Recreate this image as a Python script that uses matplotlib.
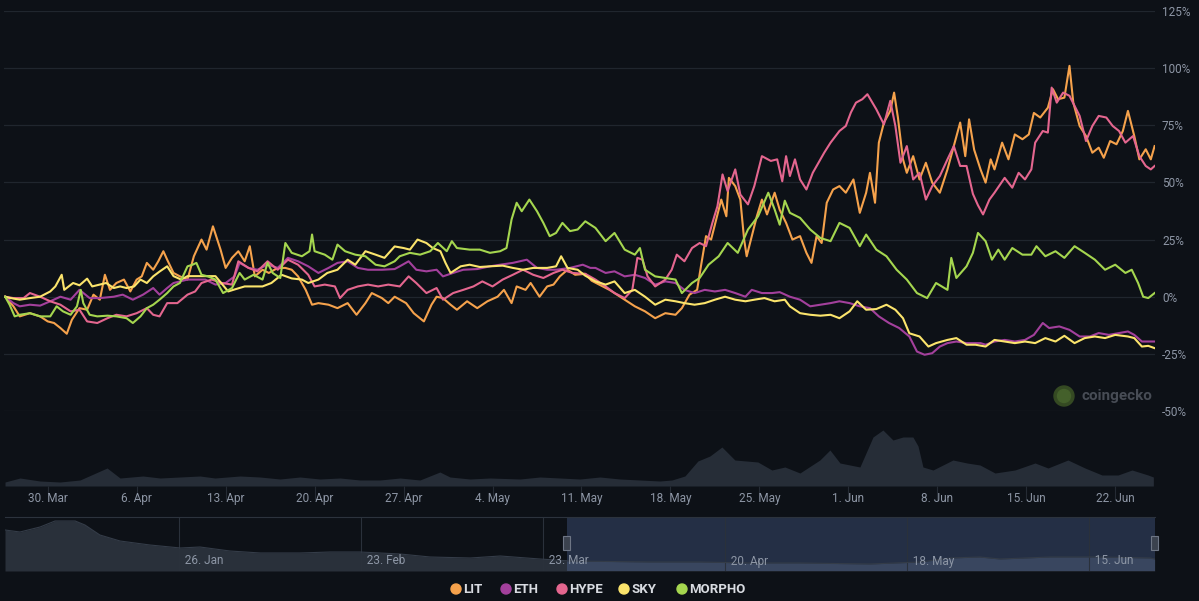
import numpy as np
import pandas as pd
import matplotlib
matplotlib.use("Agg")
import matplotlib.pyplot as plt
import matplotlib.dates as mdates
from matplotlib.patches import Circle, Rectangle
from matplotlib.ticker import FuncFormatter

plt.rcParams['font.family'] = ['Roboto', 'DejaVu Sans']

START = pd.Timestamp("2026-03-30")

# (days after 30 Mar, % change)
lit = [(-3.35, 0), (-2.7, -4.2), (-2.2, -8.6), (-1.4, -7.2), (-0.6, -8.6), (0, -10.8), (0.5, -11.5),
       (1, -13.7), (1.5, -16.2), (1.9, -10.1), (2.5, -5), (3.1, -5.7), (3.6, 0.9), (4.1, -1.3),
       (4.5, 9.6), (4.9, 3), (5.4, 6), (6, 7.5), (6.5, 2.3), (7, 7.5), (7.4, 8.9), (7.8, 14.8),
       (8.3, 11.8), (8.7, 15.5), (9.1, 19.9), (9.4, 16.2), (9.9, 10.4), (10.4, 8.9), (11, 7.5),
       (11.5, 17.7), (11.8, 21.3), (12.1, 25), (12.5, 20.6), (13, 30.8), (13.6, 20.6), (14, 12.6),
       (14.5, 17), (15, 19.9), (15.5, 15.5), (15.9, 22.1), (16.3, 8.9), (16.9, 11.8), (17.4, 10.4),
       (18.1, 12.6), (18.7, 12.6), (19.2, 11.8), (19.7, 8.9), (20.3, 3), (20.8, -3.5), (21.3, -2.8),
       (22.1, -3.5), (22.8, -5), (23.6, -2.8), (24.3, -7.9), (25, -2.8), (25.5, 1.6), (26.3, -0.6),
       (26.8, -2.8), (27.3, 0), (28.2, -2.8), (28.8, -7.2), (29.6, -10.8), (30.2, -3.5), (30.6, 0),
       (31.1, -0.6), (31.7, -3.5), (32.2, -5.7), (33, -2), (33.8, -5), (34.6, -2), (35.4, 0),
       (35.9, 3), (36.5, -2.8), (36.9, 4.5), (37.6, 3), (38, 6), (38.7, 0), (39.3, 4.5), (39.8, 5.3),
       (40.3, 8.9), (40.9, 11.8), (41.5, 9.6), (42.3, 10), (42.8, 7), (43.5, 5), (44.2, 3),
       (44.6, 1.6), (45.4, -1.3), (46.2, -4.2), (47, -6.4), (47.8, -9.4), (48.6, -7.2), (49.4, -7.9),
       (49.9, -5), (50.5, 0.9), (51.1, 3), (51.4, 13.3), (51.8, 26.5), (52.2, 25), (52.6, 33.8),
       (53, 42.5), (53.4, 35.2), (53.6, 52), (54.1, 48.4), (54.5, 42.5), (54.8, 25), (55, 17.7),
       (55.4, 26.5), (55.8, 35.2), (56.2, 42.5), (56.6, 36), (57.2, 45.5), (57.6, 38), (58.1, 32.3),
       (58.6, 25), (59.2, 26.5), (59.7, 19.2), (60.1, 14.8), (60.5, 26.5), (60.9, 23.5), (61.3, 41.1),
       (61.8, 46.9), (62.3, 48.4), (62.8, 45.5), (63.4, 51.3), (63.9, 36.7), (64.4, 45.5),
       (64.7, 54.2), (65.1, 41.1), (65.4, 67.4), (65.8, 76.2), (66.3, 81.3), (66.6, 89.3),
       (66.9, 78.4), (67.3, 60.1), (67.6, 54.2), (68.1, 61.5), (68.6, 51.3), (69.1, 58.6),
       (69.6, 49.9), (70.2, 45.5), (70.8, 55.7), (71.3, 65.9), (71.8, 76.2), (72.2, 61.5),
       (72.5, 77.6), (72.9, 64.3), (73.4, 55.7), (73.8, 49.9), (74.2, 60.1), (74.5, 55.7),
       (75.1, 67.4), (75.6, 60.1), (76.1, 71), (76.7, 68.9), (77.2, 71), (77.6, 80.4), (78.1, 78.4),
       (78.7, 82.7), (79.1, 90.8), (79.5, 86.4), (80, 87.1), (80.4, 101), (80.7, 84.9), (81.2, 74.7),
       (81.7, 70.3), (82.2, 63), (82.7, 65.2), (83.1, 60.8), (83.6, 68.1), (84.1, 66.7), (84.6, 72.5),
       (85, 81.3), (85.5, 70.3), (85.9, 60.1), (86.4, 64.5), (86.8, 60.1), (87.1, 65.9)]

eth = [(-3.35, 0), (-2.7, -2.8), (-2.2, -4.2), (-1.4, -3.5), (-0.6, -3.9), (0.2, -2), (1, 0),
       (1.8, -1.3), (2.5, 3), (3.3, -0.6), (4.1, -0.6), (5.2, 0), (5.9, 0.9), (6.7, -1.3), (7.5, 0.9),
       (8.3, 3.8), (8.8, 0.9), (9.4, 3.8), (9.9, 6), (11, 7.5), (12.4, 7.5), (13.2, 5.3), (14, 6),
       (14.7, 8.9), (15.1, 14.8), (15.8, 12.6), (16.5, 11.8), (17.3, 14), (18.1, 12.6), (18.9, 17),
       (19.7, 15.5), (20.5, 13.3), (21.3, 10.4), (22.1, 12.6), (22.8, 14.8), (23.6, 15.5),
       (24.4, 12.6), (25.2, 11.8), (26.3, 11.8), (27.3, 12.1), (27.7, 13.3), (28.4, 15.5), (29, 11.8),
       (29.8, 11.1), (30.6, 11.8), (31.1, 8.9), (31.9, 10.4), (32.7, 11.8), (33.8, 12.1), (34.8, 13.3),
       (35.6, 14), (36.6, 14.8), (37.7, 16.2), (38.5, 12.6), (39.3, 11.8), (40, 11.8), (41.1, 12.6),
       (42.1, 14), (42.7, 12.6), (43.1, 12.6), (43.9, 10.4), (44.6, 11.1), (45.4, 8.9), (46.2, 9.6),
       (47, 8.2), (47.8, 5.3), (48.6, 6.7), (49.4, 6), (50.1, 3), (50.9, 1.6), (51.7, 3), (52.5, 2.3),
       (53.3, 3), (54.1, 1.6), (54.9, 0), (55.4, 3), (56.2, 1.6), (57, 1.6), (57.6, 2), (58.4, 0),
       (59.2, -1.3), (60, -4.2), (60.8, -3.5), (61.6, -2.8), (62.3, -2), (63.1, -2.8), (63.9, -4.2),
       (64.7, -5), (65.4, -8.6), (66.2, -11.5), (67, -13.7), (67.8, -17.4), (68.4, -24), (69, -25.4),
       (69.6, -24.7), (70.2, -21.8), (70.8, -20.3), (71.5, -19.6), (72.3, -20.3), (73.4, -20.3),
       (73.8, -21), (74.5, -19.6), (75.3, -18.9), (76.1, -19.6), (76.9, -18.9), (77.6, -16.7),
       (78.3, -11.5), (78.8, -13.7), (79.6, -13), (80.4, -14.5), (81.2, -17.4), (82, -17.4),
       (82.7, -15.9), (83.5, -16.7), (84.3, -15.9), (85, -15.2), (85.5, -16.7), (86.1, -19.6),
       (87.1, -19.6)]

hype = [(-3.35, 0), (-2.7, -0.6), (-1.9, -0.6), (-1.4, 1.6), (-0.6, 0), (0.2, -2), (1, -3.5),
        (1.8, -6.4), (2.5, -5.7), (3.1, -10.8), (3.9, -11.5), (4.7, -9.4), (5.4, -7.9), (6.2, -8.6),
        (7, -7.2), (7.8, -5), (8.3, -7.9), (8.8, -8.6), (9.4, -2.8), (10.2, -2.8), (11, 0.9),
        (11.6, 2.3), (12.1, 6), (12.9, 7.5), (13.7, 6), (14.5, 5.3), (15, 15.5), (15.8, 12.6),
        (16.5, 11.1), (17.3, 15.5), (18.1, 11.8), (18.9, 16.2), (19.7, 14), (20.5, 9.6), (21, 4.5),
        (21.8, 5.3), (22.6, 4.5), (23, -0.6), (23.6, 3), (24.4, 4.5), (25.2, 5.3), (26, 4.5),
        (26.8, 5.3), (27.7, 4.5), (28.4, 8.9), (29, 6), (29.8, 1.6), (30.6, 3.8), (31.1, -1.3),
        (31.9, 1.6), (32.7, 3), (33.5, 4.5), (34.2, 6.7), (35, 4.5), (35.8, 7.5), (36.6, 9.6),
        (37.4, 11.8), (38.2, 9.6), (39, 8.2), (39.8, 10.4), (40.5, 11.8), (41.3, 10.4), (42.3, 10),
        (43.1, 7.5), (43.9, 4.5), (44.6, 1.6), (45.4, -0.6), (46, 3), (46.4, 17), (46.8, 16.2),
        (47.2, 8.9), (47.8, 4.5), (48.6, 7.5), (49.1, 11.8), (49.5, 18.4), (50.1, 15.5), (50.7, 21.3),
        (51.3, 23.5), (51.8, 22.1), (52.3, 32.3), (52.7, 39.6), (53.1, 53.5), (53.5, 46.2),
        (54.1, 55.7), (54.5, 44.7), (55.1, 40.4), (55.6, 48.4), (56.2, 61.5), (56.9, 59.4),
        (57.4, 60.1), (57.8, 50.5), (58.1, 61.5), (58.4, 52.8), (58.8, 60.1), (59.2, 51.3),
        (59.7, 46.9), (60.2, 54.2), (61.1, 63), (61.6, 67.4), (62.3, 72.5), (62.8, 74.7), (63.2, 80.6),
        (63.6, 84.9), (64.1, 86.4), (64.5, 88.6), (65.2, 82), (65.8, 75.4), (66.3, 85.7), (66.7, 74.7),
        (67.1, 58.6), (67.6, 65.9), (68.1, 51.3), (68.6, 54.2), (69.1, 42.5), (69.6, 48.4),
        (70.2, 52.8), (70.8, 60.1), (71.3, 65.9), (71.8, 57.2), (72.3, 57.2), (72.8, 45), (73.2, 40),
        (73.6, 36), (74.1, 42.5), (74.5, 45.5), (75.3, 52), (75.9, 47.7), (76.4, 54.2), (76.9, 51.3),
        (77.4, 55.7), (77.7, 67.4), (78.3, 72.5), (78.7, 71.8), (79, 91.5), (79.4, 84.9), (79.9, 89.3),
        (80.4, 87.9), (80.8, 83.5), (81.2, 79.1), (81.7, 68.1), (82.2, 74.7), (82.7, 79.1),
        (83.3, 78.4), (83.8, 74.7), (84.3, 72.5), (84.8, 67.4), (85.4, 70.3), (85.9, 61.5),
        (86.4, 57.2), (86.8, 55.7), (87.1, 57.2)]

sky = [(-3.35, 0), (-3, -0.5), (-2.2, -1.3), (-1.4, -0.6), (-0.6, 0), (0.2, 2.3), (0.6, 4.5),
       (1.1, 9.6), (1.3, 3), (2, 6), (2.5, 5), (3.1, 7.9), (3.5, 4.5), (4.1, 5.3), (4.6, 6), (5.2, 3.8),
       (5.7, 4.5), (6.2, 3.8), (6.8, 4.5), (7.3, 7.5), (7.8, 6), (8.3, 8.9), (8.8, 11), (9.4, 13.3),
       (9.9, 9), (10.5, 7.5), (11, 9), (12, 9), (13.2, 9), (14.2, 2.3), (14.6, 3), (15.5, 4.5),
       (16.9, 4.5), (17.6, 6), (18.4, 9.6), (19.2, 8), (20, 7.5), (20.5, 6), (21.3, 7.5), (22, 10.4),
       (22.8, 11.8), (23.6, 16.2), (24.2, 14), (25, 19.9), (25.8, 18.4), (26.5, 17), (27.3, 22),
       (28, 21.3), (28.5, 20.6), (29.1, 25), (29.8, 23.5), (30.3, 21.3), (30.9, 19.9), (31.3, 14.8),
       (31.7, 10.4), (32.5, 13.3), (33.2, 14), (34, 13), (34.8, 13.3), (35.8, 13.6), (36.6, 12.6),
       (37.4, 11.8), (38.2, 12.6), (39.3, 12.6), (40, 13.3), (40.4, 17.7), (40.9, 12.6), (41.7, 11.8),
       (42.3, 9.2), (43.1, 6.7), (43.9, 5.3), (44.6, 6.7), (45.4, 1.6), (46.2, 3), (47, 0),
       (47.8, -3.5), (48.6, -1.3), (49.4, -2), (50.1, -2.8), (50.9, -3.5), (51.7, -2.8), (52.5, -1.3),
       (53.3, 0), (54.1, -1.3), (54.9, -2), (55.6, -1.3), (56.4, -0.6), (57.2, -2), (58, -1.3),
       (58.4, -4.2), (59.2, -7.2), (60, -7.9), (60.8, -8.3), (61.6, -7.9), (62.3, -9.4), (63.1, -6.4),
       (63.7, -2), (64.4, -5.7), (65.2, -5.4), (66, -3.5), (66.7, -5.7), (67.3, -9.4), (67.8, -16),
       (68.6, -17.4), (69.3, -21.8), (69.9, -20.3), (70.8, -18.9), (71.5, -18.1), (72.3, -21),
       (73, -21), (73.8, -21.8), (74.5, -18.9), (75.3, -19.6), (76.1, -20.3), (76.9, -19.6),
       (77.7, -20.3), (78.5, -18.1), (79.3, -19.6), (80, -17.1), (80.8, -20.3), (81.6, -18.1),
       (82.4, -17.4), (83.2, -18.1), (84, -16.7), (85, -17.4), (85.5, -18.1), (86.1, -21.8),
       (86.6, -21.5), (87.1, -22.5)]

morpho = [(-3.35, 0), (-3, -3.5), (-2.6, -8.6), (-2.2, -7.9), (-1.4, -7.2), (-0.6, -8.6), (0.2, -8.6),
          (0.7, -4.2), (1.2, -6.4), (1.8, -7.9), (2.3, -4.2), (2.6, 3), (2.8, -2.8), (3.3, -7.9),
          (3.9, -8.6), (4.7, -8.3), (5.4, -8.6), (6.2, -9.4), (6.7, -11.5), (7.3, -8.6), (7.8, -5),
          (8.3, -3.5), (8.8, -1.3), (9.4, 1.6), (9.9, 4.5), (10.4, 6), (11, 13.3), (11.4, 14),
          (11.7, 14.8), (12.1, 9.6), (12.6, 8.9), (13.2, 7.5), (13.8, 1.6), (14.5, 3.8), (15.1, 10.4),
          (15.5, 7.5), (16.2, 9.6), (16.9, 7.5), (17.3, 14.8), (17.7, 10.4), (18.3, 8.2), (18.7, 23.5),
          (19.2, 19.2), (20, 17.7), (20.6, 19.9), (20.8, 27.2), (21, 19.9), (21.8, 18.4), (22.4, 16.2),
          (22.8, 22.8), (23.4, 19.9), (24.2, 18.4), (25, 17.7), (25.8, 14), (26.5, 13.3), (27.3, 15.5),
          (27.7, 17.7), (28.5, 19.2), (29.3, 18.4), (30.1, 19.9), (30.7, 23.5), (31.4, 19.9),
          (31.8, 24.3), (32.2, 21.3), (33.2, 20.6), (34, 20.6), (34.8, 19.2), (35.6, 19.9), (36.1, 21.3),
          (36.5, 33.8), (36.9, 41.1), (37.3, 37.4), (37.9, 42.5), (38.5, 37.4), (39, 32.3), (39.5, 26.5),
          (40, 27.9), (40.5, 32.3), (41.1, 28.7), (41.7, 29.4), (42.3, 33), (43.1, 30.1), (43.9, 24.3),
          (44.6, 27.9), (45.4, 20.6), (46.2, 18.4), (46.6, 21.3), (47, 11.8), (47.8, 8.9), (48.6, 8.2),
          (49.4, 7.5), (49.9, 1.6), (50.7, 6), (51.3, 8.2), (52, 14), (52.8, 17.7), (53.5, 23.5),
          (54.3, 19.2), (55.1, 29.4), (55.9, 35.2), (56.7, 45.5), (57.2, 38.2), (57.6, 31.5), (58, 42),
          (58.4, 36.7), (59.2, 34.5), (60, 29.4), (60.8, 25.7), (61.6, 24.3), (62.3, 32.3), (63.1, 30.1),
          (63.9, 22.1), (64.4, 27.2), (65.2, 20.6), (66, 17.7), (66.8, 11.8), (67.6, 7.5), (68.4, 1.6),
          (69.2, -0.6), (69.9, 6), (70.8, 3), (71.1, 17), (71.5, 8.2), (72.3, 13.3), (72.8, 19.2),
          (73.2, 27.9), (73.8, 24.3), (74.3, 16.2), (74.8, 20.6), (75.3, 16.2), (75.9, 21.3),
          (76.7, 18.4), (77.4, 18.4), (77.8, 22.1), (78.5, 17.7), (79.3, 19.9), (80, 17), (80.8, 22.1),
          (81.6, 19.2), (82.4, 16.2), (83.2, 11.8), (84, 14), (84.8, 10.4), (85.3, 11.8), (85.8, 6),
          (86.2, 0), (86.6, -0.6), (87.1, 1.6)]

# volume pane under the lines (days after 30 Mar, relative volume)
volume = [(-3.36, 4), (-2.18, 8), (-0.61, 5), (0.97, 4), (2.54, 6), (4.67, 18), (5.69, 8), (7.5, 10),
          (8.84, 8), (10.41, 9), (11.98, 10), (13.16, 8), (15.13, 10), (16.7, 9), (18.28, 7),
          (19.85, 9), (21.42, 7), (23.0, 8), (24.57, 6), (26.14, 6), (27.72, 8), (29.29, 6),
          (30.86, 14), (31.65, 9), (33.23, 7), (34.8, 8), (37.16, 7), (38.73, 9), (40.31, 8),
          (41.88, 7), (43.45, 9), (45.03, 7), (46.6, 6), (48.17, 5), (49.12, 6), (50.14, 10),
          (51.16, 25), (52.11, 30), (53.05, 39), (54.07, 26), (55.88, 24), (56.98, 16), (58.01, 19),
          (59.19, 13), (60.76, 26), (61.55, 36), (62.34, 23), (63.91, 19), (64.94, 49), (65.72, 56),
          (66.51, 46), (67.3, 49), (68.08, 49), (68.48, 40), (68.87, 19), (69.66, 16), (71.23, 26),
          (72.34, 23), (73.36, 21), (74.54, 13), (76.11, 16), (77.69, 23), (78.71, 18), (80.28, 26),
          (81.62, 18), (82.96, 11), (84.22, 11), (85.32, 16), (86.58, 11), (87.0, 9)]

# navigator series (days after 30 Mar, relative level)
navigator = [(-89.8, 41), (-87.5, 39), (-84.4, 44), (-82.1, 50), (-79, 50), (-77.5, 46), (-75.2, 36),
             (-72.1, 30), (-67.5, 26), (-62.8, 23), (-59.8, 24), (-55.2, 20), (-50.5, 18), (-44.4, 18),
             (-39.8, 19), (-35.2, 19), (-29, 17), (-24.4, 14), (-18.2, 13), (-13.6, 15), (-7.5, 12),
             (-2.8, 10), (9.5, 9), (17.2, 9), (24.8, 8), (32.5, 8), (43.3, 7), (51, 9), (55.6, 13),
             (60.2, 14), (63.3, 12), (71, 14), (78.7, 14), (86.4, 13), (87.1, 12)]

series_names = ["LIT", "ETH", "HYPE", "SKY", "MORPHO"]
series_data = [lit, eth, hype, sky, morpho]
colors = ["#f5a24c", "#a3409c", "#e4668f", "#fbe46c", "#a5d64f"]


def to_dates(days):
    return START + pd.to_timedelta(np.array(days, dtype=float), unit="D")


def split(pairs):
    d, v = zip(*pairs)
    return to_dates(d), np.array(v)


W, H = 1199, 601
BG = "#0d1117"
GRID = "#20262e"
LABEL = "#8d96a5"

fig = plt.figure(figsize=(W / 100, H / 100), dpi=100, facecolor=BG)


def px_axes(x0, y0, x1, y1, **kw):
    return fig.add_axes([x0 / W, 1 - y1 / H, (x1 - x0) / W, (y1 - y0) / H], **kw)


# main price comparison pane
ax = px_axes(4, 11, 1155, 411)
ax.set_facecolor("none")
for name, data, c in zip(series_names, series_data, colors):
    t, v = split(data)
    ax.plot(t, v, color=c, lw=1.5, solid_joinstyle="round", label=name)
ax.set_ylim(-50, 125)
ax.set_yticks(np.arange(-50, 126, 25))
ax.yaxis.set_major_formatter(FuncFormatter(lambda v, p: f"{int(v)}%"))
ax.yaxis.tick_right()
ax.tick_params(axis="y", length=0, pad=5, labelcolor=LABEL, labelsize=8.5)
ax.tick_params(axis="x", length=0, labelbottom=False)
ax.grid(axis="y", color=GRID, lw=0.9)
ax.set_axisbelow(True)
for s in ax.spines.values():
    s.set_visible(False)
ax.set_xlim(to_dates([-3.44])[0], to_dates([87.13])[0])

# volume pane
axv = px_axes(4, 425, 1155, 486, sharex=ax)
axv.set_facecolor("none")
vt, vv = split(volume)
axv.fill_between(vt, vv, color="#262d37", lw=0)
axv.set_ylim(0, 61)
axv.set_yticks([])
for s in axv.spines.values():
    s.set_visible(False)
axv.xaxis.set_major_locator(mdates.WeekdayLocator(byweekday=mdates.MO))
axv.xaxis.set_major_formatter(FuncFormatter(
    lambda x, p: f"{mdates.num2date(x).day}. {mdates.num2date(x).strftime('%b')}"))
axv.tick_params(axis="x", length=10, width=0.8, color="#252b34", pad=-5.4,
                labelcolor=LABEL, labelsize=8.5)
ax.set_xlim(to_dates([-3.44])[0], to_dates([87.13])[0])

# navigator
axn = px_axes(5, 517, 1155, 571)
axn.set_facecolor("none")
nt, nv = split(navigator)
axn.fill_between(nt, nv, color="#29303a", lw=0)
axn.plot(nt, nv, color="#343c48", lw=0.8)
axn.set_ylim(0, 54)
axn.set_xlim(to_dates([-89.8])[0], to_dates([87.15])[0])
axn.set_yticks([])
nav_ticks = pd.date_range("2026-01-26", periods=6, freq="28D")
axn.set_xticks(nav_ticks)
axn.tick_params(axis="x", length=0, labelbottom=False)
axn.grid(axis="x", color="#2a313b", lw=0.8)
for d in nav_ticks:
    axn.text(d, 10, f"  {d.day}. {d.strftime('%b')}", ha="left", va="center",
             color=LABEL, fontsize=8.5)
for s in axn.spines.values():
    s.set_visible(False)
axn.spines["top"].set_visible(True)
axn.spines["top"].set_color("#2c333d")
sel0, sel1 = to_dates([-3.35])[0], to_dates([87.13])[0]
axn.axvspan(sel0, sel1, color="#6a8bd0", alpha=0.25, lw=0)

# overlay for legend, handles, watermark
ov = fig.add_axes([0, 0, 1, 1])
ov.set_xlim(0, W)
ov.set_ylim(H, 0)
ov.axis("off")
ov.patch.set_alpha(0)

for d in (sel0, sel1):
    xd = axn.transData.transform((mdates.date2num(d), 0))[0]
    ov.add_patch(Rectangle((xd - 3.5, 536), 7, 14, facecolor="#3b424e",
                           edgecolor="#6e7685", lw=0.8))

legend_x = [456, 506, 562, 624, 682]
for x, name, c in zip(legend_x, series_names, colors):
    ov.add_patch(Circle((x, 589), 5, color=c))
    ov.text(x + 7, 589.5, name, va="center", ha="left", fontsize=9.5,
            fontweight="bold", color="#d8dbe1")

ov.add_patch(Circle((1064, 396), 10, color="#354a23"))
ov.add_patch(Circle((1064, 396), 6.5, color="#44602b"))
ov.text(1082, 396, "coingecko", va="center", ha="left", fontsize=11,
        fontweight="bold", color="#474c55")

fig.savefig("out.png", dpi=100, facecolor=BG)
